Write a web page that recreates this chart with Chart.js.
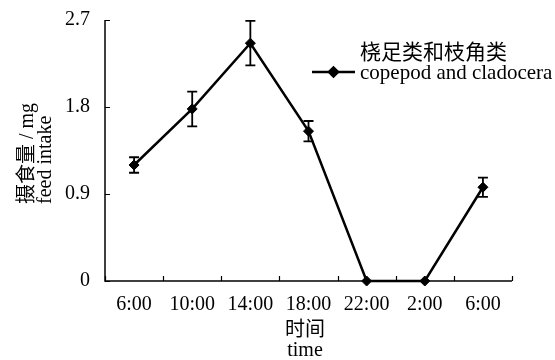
<!DOCTYPE html>
<html>
<head>
<meta charset="utf-8">
<script src="https://cdn.jsdelivr.net/npm/chart.js@4/dist/chart.umd.min.js"></script>
<style>
  html, body { margin: 0; padding: 0; background: #fff; }
  #wrap { width: 555px; height: 360px; position: relative; }
</style>
</head>
<body>
<div id="wrap"><canvas id="c"></canvas></div>
<script>
// Sampling times over one day
const timeLabels = ['6:00', '10:00', '14:00', '18:00', '22:00', '2:00', '6:00'];
// Mean feed intake (mg) and standard deviation at each sampling time
const feedIntake = [1.20, 1.78, 2.46, 1.55, 0, 0, 0.97];
const feedError = [0.08, 0.18, 0.23, 0.105, 0, 0, 0.10];
// Y axis tick values
const yTicks = [0, 0.9, 1.8, 2.7];

const seriesNameZh = '桡足类和枝角类';
const seriesNameEn = 'copepod and cladocera';
const yTitleLines = ['摄食量 / mg', 'feed intake'];
const xTitleLines = ['时间', 'time'];

const FONT = '"Liberation Serif", "Times New Roman", "Noto Sans CJK SC", serif';
const INK = '#000';

// Axis lines with inward tick marks
const axesPlugin = {
  id: 'axes',
  afterDraw(chart) {
    const { ctx, chartArea: a, scales: { x, y } } = chart;
    ctx.save();
    ctx.strokeStyle = INK;
    ctx.lineWidth = 1.5;
    ctx.beginPath();
    ctx.moveTo(a.left, a.top);
    ctx.lineTo(a.left, a.bottom);
    ctx.lineTo(a.right, a.bottom);
    ctx.stroke();
    // y ticks
    ctx.lineWidth = 1.2;
    ctx.beginPath();
    yTicks.forEach(v => {
      const py = Math.round(y.getPixelForValue(v)) + 0.5;
      ctx.moveTo(a.left, py);
      ctx.lineTo(a.left + 5, py);
    });
    // x ticks on category boundaries
    const n = timeLabels.length;
    for (let i = 0; i <= n; i++) {
      let px;
      if (i === 0) px = a.left;
      else if (i === n) px = a.right;
      else px = (x.getPixelForValue(i - 1) + x.getPixelForValue(i)) / 2;
      px = Math.round(px) + 0.5;
      ctx.moveTo(px, a.bottom);
      ctx.lineTo(px, a.bottom - 5);
    }
    ctx.stroke();
    ctx.restore();
  }
};

// Error bars drawn under the markers
const errorBarPlugin = {
  id: 'errorBars',
  beforeDatasetsDraw(chart) {
    const { ctx, scales: { x, y } } = chart;
    ctx.save();
    ctx.strokeStyle = INK;
    ctx.lineWidth = 1.8;
    feedIntake.forEach((v, i) => {
      const e = feedError[i];
      if (!e) return;
      const px = x.getPixelForValue(i);
      const top = y.getPixelForValue(v + e);
      const bot = y.getPixelForValue(v - e);
      ctx.beginPath();
      ctx.moveTo(px, top); ctx.lineTo(px, bot);
      ctx.moveTo(px - 5, top); ctx.lineTo(px + 5, top);
      ctx.moveTo(px - 5, bot); ctx.lineTo(px + 5, bot);
      ctx.stroke();
    });
    ctx.restore();
  }
};

// Axis titles and legend
const textPlugin = {
  id: 'texts',
  afterDraw(chart) {
    const { ctx } = chart;
    ctx.save();
    ctx.fillStyle = INK;
    ctx.textBaseline = 'middle';

    // x title
    ctx.font = '20px ' + FONT;
    ctx.textAlign = 'center';
    ctx.fillText(xTitleLines[0], 305, 331);
    ctx.fillText(xTitleLines[1], 305, 351);

    // y title (rotated)
    ctx.save();
    ctx.translate(0, 204);
    ctx.rotate(-Math.PI / 2);
    ctx.textAlign = 'left';
    ctx.fillText(yTitleLines[0], 0, 28);
    ctx.fillText(yTitleLines[1], 0, 46);
    ctx.restore();

    // legend
    ctx.strokeStyle = INK;
    ctx.lineWidth = 2.5;
    ctx.beginPath();
    ctx.moveTo(312, 72);
    ctx.lineTo(355, 72);
    ctx.stroke();
    Chart.helpers.drawPoint(ctx, { pointStyle: 'rectRot', radius: 4.5, borderWidth: 1 }, 333.5, 72);
    ctx.fill();
    ctx.textAlign = 'left';
    ctx.font = '21px ' + FONT;
    ctx.fillText(seriesNameZh, 360, 53);
    ctx.fillText(seriesNameEn, 360, 73);
    ctx.restore();
  }
};

new Chart(document.getElementById('c'), {
  type: 'line',
  data: {
    labels: timeLabels,
    datasets: [{
      label: seriesNameEn,
      data: feedIntake,
      borderColor: INK,
      backgroundColor: INK,
      borderWidth: 2.5,
      pointStyle: 'rectRot',
      pointRadius: 5,
      pointBorderWidth: 1,
      pointBackgroundColor: INK,
      pointBorderColor: INK,
      tension: 0,
      clip: false
    }]
  },
  options: {
    responsive: true,
    maintainAspectRatio: false,
    animation: false,
    events: [],
    layout: { padding: { top: 20, right: 43, left: 0, bottom: 0 } },
    plugins: { legend: { display: false }, tooltip: { enabled: false } },
    scales: {
      x: {
        type: 'category',
        offset: true,
        grid: { display: false, drawTicks: false, offset: true },
        border: { display: false },
        ticks: { color: INK, font: { family: FONT, size: 20 }, padding: 12, maxRotation: 0, autoSkip: false },
        afterFit(s) { s.height = 79; s.paddingLeft = 0; s.paddingRight = 0; }
      },
      y: {
        min: 0,
        max: 2.7,
        grid: { display: false, drawTicks: false },
        border: { display: false },
        afterBuildTicks(s) { s.ticks = yTicks.map(v => ({ value: v })); },
        ticks: {
          color: INK,
          font: { family: FONT, size: 20 },
          padding: 15,
          callback: v => String(v)
        },
        afterFit(s) { s.width = 105; s.paddingTop = 0; s.paddingBottom = 0; }
      }
    }
  },
  plugins: [axesPlugin, errorBarPlugin, textPlugin]
});
</script>
</body>
</html>
